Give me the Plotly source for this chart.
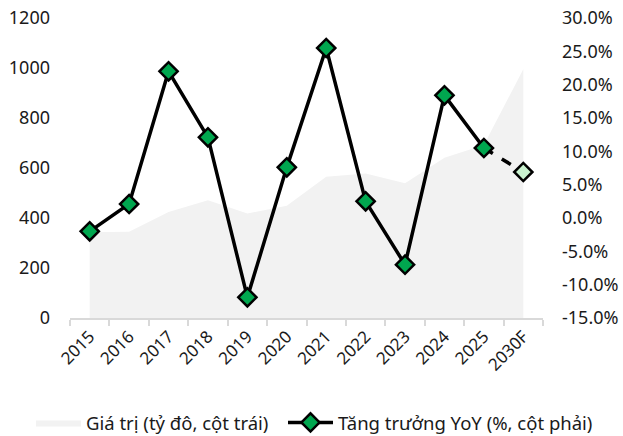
import plotly.graph_objects as go

# Năm và giá trị
years = ["2015", "2016", "2017", "2018", "2019", "2020", "2021", "2022",
         "2023", "2024", "2025", "2030F"]
value_bn = [343, 345, 424, 471, 418, 449, 565, 578, 539, 641, 692, 995]
yoy_pct = [-2.0, 2.1, 22.0, 12.1, -11.9, 7.6, 25.5, 2.5, -7.0, 18.4, 10.5, 6.9]

# Nhãn trục phải
yoy_tickvals = [-15, -10, -5, 0, 5, 10, 15, 20, 25, 30]
yoy_ticktext = ["-15.0%", "-10.0%", "-5.0%", "0.0%", "5.0%", "10.0%",
                "15.0%", "20.0%", "25.0%", "30.0%"]

FONT = "Noto Sans"
GREEN = "#00a74f"
LIGHT_GREEN = "#c9f2cf"

fig = go.Figure()

# Vùng giá trị (trục trái)
fig.add_trace(go.Scatter(
    x=years, y=value_bn, mode="lines", fill="tozeroy",
    fillcolor="#f2f2f2", line=dict(width=0, color="#f2f2f2"),
    name="Giá trị (tỷ đô, cột trái)", yaxis="y", legend="legend",
))

# Đoạn dự phóng (nét đứt)
fig.add_trace(go.Scatter(
    x=years[-2:], y=yoy_pct[-2:], mode="lines",
    line=dict(color="black", width=3.5, dash="dash"),
    showlegend=False, yaxis="y2", hoverinfo="skip",
))

# Tăng trưởng YoY (trục phải)
fig.add_trace(go.Scatter(
    x=years[:-1], y=yoy_pct[:-1], mode="lines+markers",
    line=dict(color="black", width=3.5),
    marker=dict(symbol="diamond", size=14, color=GREEN,
                line=dict(color="black", width=2.5)),
    name="Tăng trưởng YoY (%, cột phải)", yaxis="y2", legend="legend2",
))

# Điểm dự phóng 2030F
fig.add_trace(go.Scatter(
    x=years[-1:], y=yoy_pct[-1:], mode="markers",
    marker=dict(symbol="diamond", size=14, color=LIGHT_GREEN,
                line=dict(color="black", width=2.5)),
    showlegend=False, yaxis="y2",
))

legend_style = dict(
    orientation="h", xref="container", yref="container",
    xanchor="left", y=0.03, yanchor="middle",
    font=dict(size=18.5), itemwidth=45, bgcolor="rgba(0,0,0,0)",
)

fig.update_layout(
    width=623, height=436,
    margin=dict(l=70, r=80, t=18, b=118, autoexpand=False),
    paper_bgcolor="white", plot_bgcolor="white",
    font=dict(family=FONT, size=17, color="#1a1a1a"),
    xaxis=dict(
        type="category", categoryorder="array", categoryarray=years,
        range=[-0.5, 11.5], showgrid=False,
        showline=True, linecolor="#d9d9d9", linewidth=2,
        ticks="outside", tickson="boundaries", ticklen=6,
        tickcolor="#d9d9d9", tickwidth=2,
        tickangle=-45, tickfont=dict(size=17), automargin=False,
    ),
    yaxis=dict(
        range=[0, 1200], dtick=200, showgrid=False, zeroline=False,
        showline=False, ticks="", tickfont=dict(size=18),
        ticklabelstandoff=19, automargin=False,
    ),
    yaxis2=dict(
        range=[-15, 30], overlaying="y", side="right",
        tickmode="array", tickvals=yoy_tickvals, ticktext=yoy_ticktext,
        showgrid=False, zeroline=False, showline=False, ticks="",
        tickfont=dict(size=18), ticklabelstandoff=18, automargin=False,
    ),
    legend=dict(x=31 / 623, **legend_style),
    legend2=dict(x=283 / 623, **legend_style),
    showlegend=True,
)

fig.write_html("out.html")
